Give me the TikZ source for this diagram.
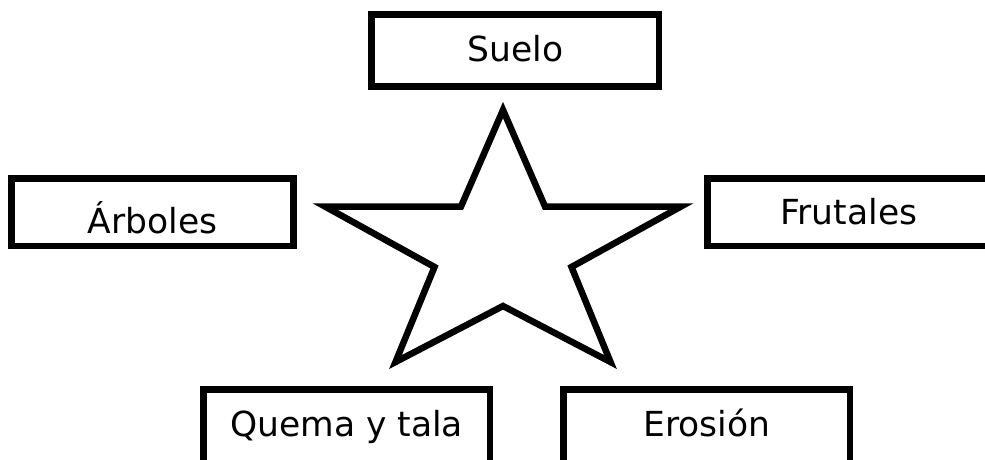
\documentclass[tikz,border=0pt]{standalone}
\usepackage{fontspec}
\setmainfont{DejaVu Sans}
\begin{document}
\begin{tikzpicture}[x=1pt,y=-1pt,
  box/.style={draw=black,line width=6.5pt,fill=white,inner sep=0pt,
    text depth=0pt,font=\fontsize{34.5}{40}\selectfont},
  starline/.style={draw=black,line width=6.5pt,line join=miter,fill=white}]
\useasboundingbox (0,0) rectangle (985,459);
\fill[white] (0,0) rectangle (985,459);
\clip (0,0) rectangle (985,459);
% star
\draw[starline] (503,110) -- (545,206.5) -- (681,206.5) -- (571.5,267) -- (610.5,362)
  -- (503,306) -- (395.5,362) -- (434.5,267) -- (325,206.5) -- (461,206.5) -- cycle;
% boxes
\node[box,minimum width=287.5pt,minimum height=72pt,text height=23pt]
  (suelo) at (515.25,50.25) {Suelo};
\node[box,minimum width=282pt,minimum height=67.5pt,text height=43pt]
  (arboles) at (152.5,212.25) {Árboles};
\node[box,minimum width=282.5pt,minimum height=67.5pt,text height=25pt]
  (frutales) at (848.75,212.25) {Frutales};
\node[box,minimum width=286.5pt,minimum height=90pt,text height=3pt]
  (quema) at (346.75,434.5) {Quema y tala};
\node[box,minimum width=286.5pt,minimum height=90pt,text height=3pt]
  (erosion) at (706.75,434.5) {Erosión};
\end{tikzpicture}
\end{document}
